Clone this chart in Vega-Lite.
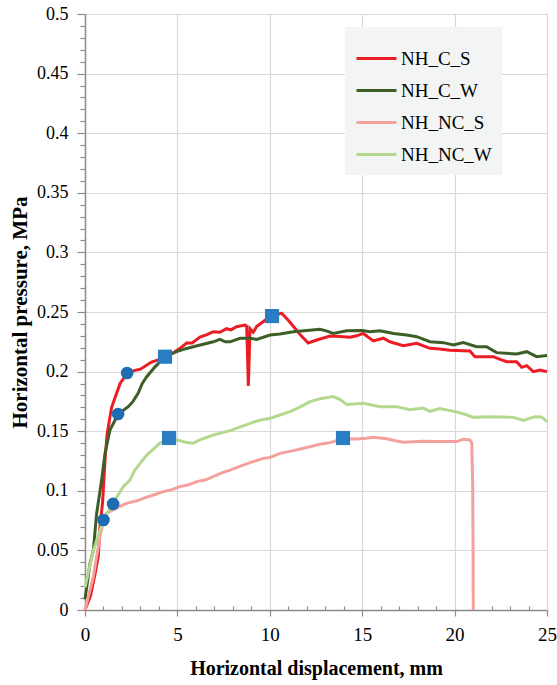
{
  "$schema": "https://vega.github.io/schema/vega-lite/v6.json",
  "width": 462,
  "height": 596,
  "autosize": "none",
  "padding": {"left": 85, "top": 14, "right": 10, "bottom": 75},
  "background": "white",
  "config": {
    "view": {"stroke": null},
    "font": "Times New Roman, Liberation Serif, serif",
    "axis": {"labelFont": "Times New Roman, Liberation Serif, serif", "titleFont": "Times New Roman, Liberation Serif, serif"},
    "legend": {"labelFont": "Times New Roman, Liberation Serif, serif"}
  },
  "datasets": {
    "curves": [
      {"s": "NH_C_S", "x": 0, "y": 0.0},
      {"s": "NH_C_S", "x": 0.3, "y": 0.012},
      {"s": "NH_C_S", "x": 0.54, "y": 0.03},
      {"s": "NH_C_S", "x": 0.72, "y": 0.045},
      {"s": "NH_C_S", "x": 0.81, "y": 0.07},
      {"s": "NH_C_S", "x": 0.95, "y": 0.09},
      {"s": "NH_C_S", "x": 1.1, "y": 0.13},
      {"s": "NH_C_S", "x": 1.2, "y": 0.148},
      {"s": "NH_C_S", "x": 1.44, "y": 0.17},
      {"s": "NH_C_S", "x": 1.9, "y": 0.19},
      {"s": "NH_C_S", "x": 2.3, "y": 0.199},
      {"s": "NH_C_S", "x": 2.7, "y": 0.201},
      {"s": "NH_C_S", "x": 3.0, "y": 0.202},
      {"s": "NH_C_S", "x": 3.6, "y": 0.208},
      {"s": "NH_C_S", "x": 4.0, "y": 0.21},
      {"s": "NH_C_S", "x": 4.33, "y": 0.2125},
      {"s": "NH_C_S", "x": 4.8, "y": 0.216},
      {"s": "NH_C_S", "x": 5.14, "y": 0.2195},
      {"s": "NH_C_S", "x": 5.5, "y": 0.224},
      {"s": "NH_C_S", "x": 5.8, "y": 0.224},
      {"s": "NH_C_S", "x": 6.22, "y": 0.229},
      {"s": "NH_C_S", "x": 6.6, "y": 0.231},
      {"s": "NH_C_S", "x": 6.94, "y": 0.2335},
      {"s": "NH_C_S", "x": 7.3, "y": 0.233},
      {"s": "NH_C_S", "x": 7.66, "y": 0.236},
      {"s": "NH_C_S", "x": 7.9, "y": 0.235},
      {"s": "NH_C_S", "x": 8.2, "y": 0.2377},
      {"s": "NH_C_S", "x": 8.66, "y": 0.239},
      {"s": "NH_C_S", "x": 8.75, "y": 0.238},
      {"s": "NH_C_S", "x": 8.84, "y": 0.188},
      {"s": "NH_C_S", "x": 8.93, "y": 0.236},
      {"s": "NH_C_S", "x": 9.1, "y": 0.233},
      {"s": "NH_C_S", "x": 9.3, "y": 0.238},
      {"s": "NH_C_S", "x": 9.65, "y": 0.242},
      {"s": "NH_C_S", "x": 9.9, "y": 0.245},
      {"s": "NH_C_S", "x": 10.2, "y": 0.247},
      {"s": "NH_C_S", "x": 10.64, "y": 0.249},
      {"s": "NH_C_S", "x": 11.0, "y": 0.243},
      {"s": "NH_C_S", "x": 11.27, "y": 0.238},
      {"s": "NH_C_S", "x": 11.7, "y": 0.23},
      {"s": "NH_C_S", "x": 12.08, "y": 0.224},
      {"s": "NH_C_S", "x": 12.54, "y": 0.2265},
      {"s": "NH_C_S", "x": 13.26, "y": 0.2299},
      {"s": "NH_C_S", "x": 13.8, "y": 0.2295},
      {"s": "NH_C_S", "x": 14.34, "y": 0.2288},
      {"s": "NH_C_S", "x": 14.7, "y": 0.23},
      {"s": "NH_C_S", "x": 15.06, "y": 0.232},
      {"s": "NH_C_S", "x": 15.6, "y": 0.2257},
      {"s": "NH_C_S", "x": 16.14, "y": 0.228},
      {"s": "NH_C_S", "x": 16.5, "y": 0.225},
      {"s": "NH_C_S", "x": 17.22, "y": 0.2217},
      {"s": "NH_C_S", "x": 17.95, "y": 0.2237},
      {"s": "NH_C_S", "x": 18.67, "y": 0.2195},
      {"s": "NH_C_S", "x": 19.2, "y": 0.219},
      {"s": "NH_C_S", "x": 19.75, "y": 0.218},
      {"s": "NH_C_S", "x": 20.83, "y": 0.2173},
      {"s": "NH_C_S", "x": 21.1, "y": 0.2125},
      {"s": "NH_C_S", "x": 22.1, "y": 0.2125},
      {"s": "NH_C_S", "x": 22.5, "y": 0.21},
      {"s": "NH_C_S", "x": 22.82, "y": 0.2083},
      {"s": "NH_C_S", "x": 23.36, "y": 0.2083},
      {"s": "NH_C_S", "x": 23.63, "y": 0.2036},
      {"s": "NH_C_S", "x": 23.9, "y": 0.205},
      {"s": "NH_C_S", "x": 24.26, "y": 0.2},
      {"s": "NH_C_S", "x": 24.62, "y": 0.2013},
      {"s": "NH_C_S", "x": 25, "y": 0.2},

      {"s": "NH_C_W", "x": 0, "y": 0.009},
      {"s": "NH_C_W", "x": 0.27, "y": 0.039},
      {"s": "NH_C_W", "x": 0.45, "y": 0.05},
      {"s": "NH_C_W", "x": 0.63, "y": 0.081},
      {"s": "NH_C_W", "x": 0.9, "y": 0.109},
      {"s": "NH_C_W", "x": 1.08, "y": 0.131},
      {"s": "NH_C_W", "x": 1.35, "y": 0.151},
      {"s": "NH_C_W", "x": 1.8, "y": 0.1644},
      {"s": "NH_C_W", "x": 2.34, "y": 0.1706},
      {"s": "NH_C_W", "x": 2.6, "y": 0.175},
      {"s": "NH_C_W", "x": 2.88, "y": 0.182},
      {"s": "NH_C_W", "x": 3.1, "y": 0.19},
      {"s": "NH_C_W", "x": 3.34, "y": 0.1957},
      {"s": "NH_C_W", "x": 3.79, "y": 0.204},
      {"s": "NH_C_W", "x": 4.33, "y": 0.2125},
      {"s": "NH_C_W", "x": 4.96, "y": 0.2167},
      {"s": "NH_C_W", "x": 5.4, "y": 0.219},
      {"s": "NH_C_W", "x": 5.86, "y": 0.2209},
      {"s": "NH_C_W", "x": 6.4, "y": 0.223},
      {"s": "NH_C_W", "x": 6.94, "y": 0.225},
      {"s": "NH_C_W", "x": 7.3, "y": 0.227},
      {"s": "NH_C_W", "x": 7.6, "y": 0.225},
      {"s": "NH_C_W", "x": 7.85, "y": 0.225},
      {"s": "NH_C_W", "x": 8.39, "y": 0.228},
      {"s": "NH_C_W", "x": 8.93, "y": 0.228},
      {"s": "NH_C_W", "x": 9.29, "y": 0.227},
      {"s": "NH_C_W", "x": 10.01, "y": 0.2307},
      {"s": "NH_C_W", "x": 10.55, "y": 0.2315},
      {"s": "NH_C_W", "x": 11.27, "y": 0.2335},
      {"s": "NH_C_W", "x": 12.0, "y": 0.2345},
      {"s": "NH_C_W", "x": 12.72, "y": 0.2355},
      {"s": "NH_C_W", "x": 13.1, "y": 0.234},
      {"s": "NH_C_W", "x": 13.44, "y": 0.232},
      {"s": "NH_C_W", "x": 14.16, "y": 0.2343},
      {"s": "NH_C_W", "x": 15.0, "y": 0.2345},
      {"s": "NH_C_W", "x": 15.42, "y": 0.2335},
      {"s": "NH_C_W", "x": 15.96, "y": 0.2343},
      {"s": "NH_C_W", "x": 16.7, "y": 0.232},
      {"s": "NH_C_W", "x": 17.4, "y": 0.2307},
      {"s": "NH_C_W", "x": 17.95, "y": 0.2293},
      {"s": "NH_C_W", "x": 18.67, "y": 0.2251},
      {"s": "NH_C_W", "x": 19.39, "y": 0.2243},
      {"s": "NH_C_W", "x": 19.93, "y": 0.2223},
      {"s": "NH_C_W", "x": 20.47, "y": 0.2243},
      {"s": "NH_C_W", "x": 21.19, "y": 0.2209},
      {"s": "NH_C_W", "x": 21.73, "y": 0.2209},
      {"s": "NH_C_W", "x": 22.27, "y": 0.2159},
      {"s": "NH_C_W", "x": 23.36, "y": 0.2148},
      {"s": "NH_C_W", "x": 23.9, "y": 0.2167},
      {"s": "NH_C_W", "x": 24.44, "y": 0.2125},
      {"s": "NH_C_W", "x": 25, "y": 0.2135},

      {"s": "NH_NC_S", "x": 0, "y": 0.0},
      {"s": "NH_NC_S", "x": 0.45, "y": 0.028},
      {"s": "NH_NC_S", "x": 0.81, "y": 0.0615},
      {"s": "NH_NC_S", "x": 1.0, "y": 0.076},
      {"s": "NH_NC_S", "x": 1.17, "y": 0.081},
      {"s": "NH_NC_S", "x": 1.62, "y": 0.085},
      {"s": "NH_NC_S", "x": 2.25, "y": 0.0895},
      {"s": "NH_NC_S", "x": 2.88, "y": 0.092},
      {"s": "NH_NC_S", "x": 3.16, "y": 0.0937},
      {"s": "NH_NC_S", "x": 3.7, "y": 0.0965},
      {"s": "NH_NC_S", "x": 4.24, "y": 0.0993},
      {"s": "NH_NC_S", "x": 4.7, "y": 0.101},
      {"s": "NH_NC_S", "x": 5.14, "y": 0.1035},
      {"s": "NH_NC_S", "x": 5.6, "y": 0.105},
      {"s": "NH_NC_S", "x": 6.04, "y": 0.1077},
      {"s": "NH_NC_S", "x": 6.5, "y": 0.109},
      {"s": "NH_NC_S", "x": 6.94, "y": 0.1118},
      {"s": "NH_NC_S", "x": 7.4, "y": 0.115},
      {"s": "NH_NC_S", "x": 7.85, "y": 0.1174},
      {"s": "NH_NC_S", "x": 8.3, "y": 0.12},
      {"s": "NH_NC_S", "x": 8.93, "y": 0.1236},
      {"s": "NH_NC_S", "x": 9.65, "y": 0.1272},
      {"s": "NH_NC_S", "x": 10.01, "y": 0.128},
      {"s": "NH_NC_S", "x": 10.55, "y": 0.1314},
      {"s": "NH_NC_S", "x": 11.27, "y": 0.1337},
      {"s": "NH_NC_S", "x": 12.18, "y": 0.137},
      {"s": "NH_NC_S", "x": 12.7, "y": 0.139},
      {"s": "NH_NC_S", "x": 13.26, "y": 0.1404},
      {"s": "NH_NC_S", "x": 13.94, "y": 0.1437},
      {"s": "NH_NC_S", "x": 14.7, "y": 0.1435},
      {"s": "NH_NC_S", "x": 15.2, "y": 0.144},
      {"s": "NH_NC_S", "x": 15.6, "y": 0.145},
      {"s": "NH_NC_S", "x": 16.32, "y": 0.1437},
      {"s": "NH_NC_S", "x": 16.8, "y": 0.142},
      {"s": "NH_NC_S", "x": 17.22, "y": 0.1407},
      {"s": "NH_NC_S", "x": 18.3, "y": 0.1415},
      {"s": "NH_NC_S", "x": 19.0, "y": 0.1413},
      {"s": "NH_NC_S", "x": 20.1, "y": 0.1413},
      {"s": "NH_NC_S", "x": 20.47, "y": 0.1432},
      {"s": "NH_NC_S", "x": 20.83, "y": 0.1426},
      {"s": "NH_NC_S", "x": 20.93, "y": 0.14},
      {"s": "NH_NC_S", "x": 20.98, "y": 0.1035},
      {"s": "NH_NC_S", "x": 21.0, "y": 0.05},
      {"s": "NH_NC_S", "x": 21.01, "y": 0.0},

      {"s": "NH_NC_W", "x": 0, "y": 0.019},
      {"s": "NH_NC_W", "x": 0.45, "y": 0.05},
      {"s": "NH_NC_W", "x": 0.63, "y": 0.058},
      {"s": "NH_NC_W", "x": 0.99, "y": 0.0755},
      {"s": "NH_NC_W", "x": 1.53, "y": 0.09},
      {"s": "NH_NC_W", "x": 2.07, "y": 0.1035},
      {"s": "NH_NC_W", "x": 2.43, "y": 0.109},
      {"s": "NH_NC_W", "x": 2.7, "y": 0.1174},
      {"s": "NH_NC_W", "x": 3.34, "y": 0.13},
      {"s": "NH_NC_W", "x": 3.7, "y": 0.135},
      {"s": "NH_NC_W", "x": 4.06, "y": 0.14},
      {"s": "NH_NC_W", "x": 4.57, "y": 0.144},
      {"s": "NH_NC_W", "x": 5.14, "y": 0.142},
      {"s": "NH_NC_W", "x": 5.5, "y": 0.1405},
      {"s": "NH_NC_W", "x": 5.86, "y": 0.14},
      {"s": "NH_NC_W", "x": 6.22, "y": 0.1428},
      {"s": "NH_NC_W", "x": 6.94, "y": 0.1468},
      {"s": "NH_NC_W", "x": 7.85, "y": 0.1505},
      {"s": "NH_NC_W", "x": 8.3, "y": 0.153},
      {"s": "NH_NC_W", "x": 8.93, "y": 0.1566},
      {"s": "NH_NC_W", "x": 9.4, "y": 0.159},
      {"s": "NH_NC_W", "x": 10.01, "y": 0.1608},
      {"s": "NH_NC_W", "x": 10.55, "y": 0.1636},
      {"s": "NH_NC_W", "x": 11.09, "y": 0.1664},
      {"s": "NH_NC_W", "x": 11.6, "y": 0.17},
      {"s": "NH_NC_W", "x": 12.18, "y": 0.1748},
      {"s": "NH_NC_W", "x": 12.8, "y": 0.1775},
      {"s": "NH_NC_W", "x": 13.44, "y": 0.179},
      {"s": "NH_NC_W", "x": 13.8, "y": 0.1765},
      {"s": "NH_NC_W", "x": 14.16, "y": 0.1725},
      {"s": "NH_NC_W", "x": 15.06, "y": 0.1734},
      {"s": "NH_NC_W", "x": 15.96, "y": 0.1706},
      {"s": "NH_NC_W", "x": 16.86, "y": 0.1706},
      {"s": "NH_NC_W", "x": 17.58, "y": 0.168},
      {"s": "NH_NC_W", "x": 18.3, "y": 0.1695},
      {"s": "NH_NC_W", "x": 18.67, "y": 0.1667},
      {"s": "NH_NC_W", "x": 19.2, "y": 0.169},
      {"s": "NH_NC_W", "x": 20.1, "y": 0.1662},
      {"s": "NH_NC_W", "x": 20.6, "y": 0.164},
      {"s": "NH_NC_W", "x": 21.01, "y": 0.1616},
      {"s": "NH_NC_W", "x": 21.91, "y": 0.1622},
      {"s": "NH_NC_W", "x": 23.18, "y": 0.1616},
      {"s": "NH_NC_W", "x": 23.72, "y": 0.159},
      {"s": "NH_NC_W", "x": 24.35, "y": 0.1622},
      {"s": "NH_NC_W", "x": 24.7, "y": 0.162},
      {"s": "NH_NC_W", "x": 25, "y": 0.158}
    ],
    "circles": [
      {"x": 2.28, "y": 0.1988},
      {"x": 1.79, "y": 0.1644},
      {"x": 1.52, "y": 0.089},
      {"x": 1.0, "y": 0.0755}
    ],
    "squares": [
      {"x": 4.33, "y": 0.2125},
      {"x": 10.12, "y": 0.2466},
      {"x": 4.55, "y": 0.1443},
      {"x": 13.96, "y": 0.1443}
    ]
  },
  "encoding": {
    "x": {
      "field": "x",
      "type": "quantitative",
      "scale": {"domain": [0, 25], "nice": false, "zero": false},
      "axis": {
        "title": "Horizontal displacement, mm",
        "titleFont": "Times New Roman, Liberation Serif, serif",
        "titleFontSize": 20,
        "titleFontWeight": "bold",
        "titleColor": "#000000",
        "titlePadding": 14,
        "values": [0,1,2,3,4,5,6,7,8,9,10,11,12,13,14,15,16,17,18,19,20,21,22,23,24,25],
        "labelExpr": "datum.value % 5 === 0 ? toString(datum.value) : ''",
        "labelFont": "Times New Roman, Liberation Serif, serif",
        "labelFontSize": 19,
        "labelColor": "#000000",
        "labelPadding": 9,
        "labelFlush": false,
        "labelOverlap": false,
        "domainColor": "#8c8c8c",
        "domainWidth": 1.5,
        "tickColor": "#8c8c8c",
        "tickWidth": 1.2,
        "tickSize": {"condition": {"test": "datum.value % 5 === 0", "value": 6}, "value": -4},
        "grid": true,
        "gridColor": "#d9d9d9",
        "gridWidth": 1.2,
        "gridOpacity": {"condition": {"test": "datum.value % 5 === 0", "value": 1}, "value": 0}
      }
    },
    "y": {
      "field": "y",
      "type": "quantitative",
      "scale": {"domain": [0, 0.5], "nice": false, "zero": false},
      "axis": {
        "title": "Horizontal  pressure, MPa",
        "titleFont": "Times New Roman, Liberation Serif, serif",
        "titleFontSize": 21,
        "titleFontWeight": "bold",
        "titleColor": "#000000",
        "titlePadding": 6,
        "values": [0,0.01,0.02,0.03,0.04,0.05,0.06,0.07,0.08,0.09,0.1,0.11,0.12,0.13,0.14,0.15,0.16,0.17,0.18,0.19,0.2,0.21,0.22,0.23,0.24,0.25,0.26,0.27,0.28,0.29,0.3,0.31,0.32,0.33,0.34,0.35,0.36,0.37,0.38,0.39,0.4,0.41,0.42,0.43,0.44,0.45,0.46,0.47,0.48,0.49,0.5],
        "labelExpr": "round(datum.value*100) % 5 === 0 ? toString(round(datum.value*100)/100) : ''",
        "labelFont": "Times New Roman, Liberation Serif, serif",
        "labelFontSize": 18,
        "labelColor": "#000000",
        "labelPadding": 9,
        "labelFlush": false,
        "labelOverlap": false,
        "domainColor": "#8c8c8c",
        "domainWidth": 1.5,
        "tickColor": "#8c8c8c",
        "tickWidth": 1.2,
        "tickSize": {"condition": {"test": "round(datum.value*100) % 5 === 0", "value": 8}, "value": 5},
        "grid": true,
        "gridColor": "#d9d9d9",
        "gridWidth": 1.2,
        "gridOpacity": {"condition": {"test": "round(datum.value*100) % 5 === 0", "value": 1}, "value": 0}
      }
    }
  },
  "layer": [
    {
      "data": {"name": "curves"},
      "mark": {"type": "line", "strokeWidth": 3, "interpolate": "linear"},
      "encoding": {
        "color": {
          "field": "s",
          "type": "nominal",
          "scale": {
            "domain": ["NH_C_S", "NH_C_W", "NH_NC_S", "NH_NC_W"],
            "range": ["#ec1c24", "#3d5f27", "#f4a09c", "#b5d88f"]
          },
          "legend": {
            "title": null,
            "orient": "none",
            "legendX": 260,
            "legendY": 13,
            "fillColor": "#f3f4f4",
            "padding": 10,
            "symbolType": "stroke",
            "symbolSize": 1600,
            "symbolStrokeWidth": 3,
            "labelFont": "Times New Roman, Liberation Serif, serif",
            "labelFontSize": 19,
            "labelColor": "#000000",
            "labelOffset": 3,
            "rowPadding": -2,
            "labelLimit": 200
          }
        },
        "detail": {"field": "s"}
      }
    },
    {
      "data": {"name": "circles"},
      "mark": {"type": "point", "shape": "circle", "filled": true, "size": 160, "color": "#1f6db1", "opacity": 1}
    },
    {
      "data": {"name": "squares"},
      "mark": {"type": "point", "shape": "square", "filled": true, "size": 200, "color": "#2a7dc2", "opacity": 1}
    }
  ]
}
